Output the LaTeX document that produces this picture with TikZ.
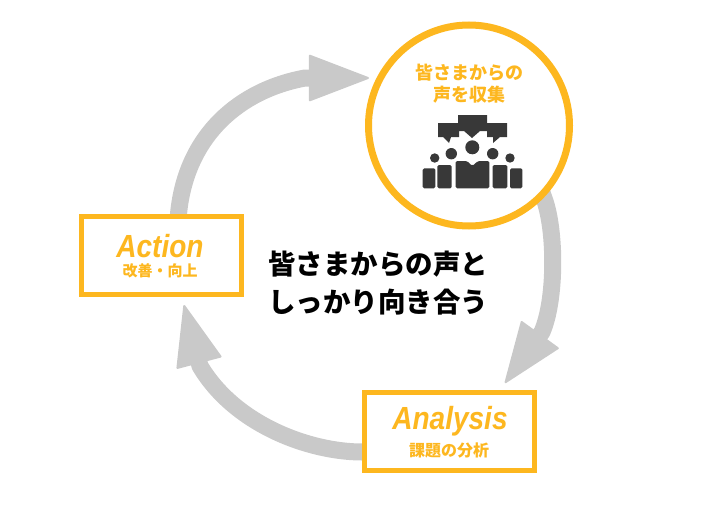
\documentclass[tikz,border=0pt]{standalone}
\usepackage{fontspec}
\setmainfont{Liberation Sans}
\newfontfamily\cjk{Noto Sans CJK JP}
\usetikzlibrary{positioning}
\usetikzlibrary{arrows.meta}
\usetikzlibrary{backgrounds}
\definecolor{loopGold}{HTML}{FDB71F}
\definecolor{loopGray}{HTML}{C9C9C9}
\definecolor{iconDark}{HTML}{383838}
\tikzstyle{loopArrow} = [draw=loopGray, line width=17pt, line cap=rect, line join=round, -{Triangle[length=62pt, width=47pt, line width=2pt, round]}]
\tikzstyle{stepBox} = [draw=loopGold, line width=5pt, fill=white, minimum width=160pt, minimum height=78pt, inner sep=0pt]
\tikzstyle{voiceCircle} = [circle, draw=loopGold, line width=7pt, fill=white, minimum size=201pt, inner sep=0pt]
\tikzstyle{stepTitle} = [text=loopGold, font=\bfseries\itshape\fontsize{32}{32}\selectfont]
\tikzstyle{stepText} = [text=loopGold, font=\cjk\bfseries\fontsize{15}{18}\selectfont]
\tikzstyle{iconPart} = [fill=iconDark, draw=none]
\newcommand{\person}[4]{\fill [iconPart, rounded corners=1.5pt] (#1,#2) rectangle (#3,#4);}
\begin{document}
\begin{tikzpicture}[x=1pt, y=-1pt]
  \useasboundingbox (0,0) rectangle (710,506);
  \node [voiceCircle] (voice) at (469,125.5) {};
  \node [stepBox] (action) at (161.5,255.5) {};
  \node [stepBox, minimum width=170pt] (analysis) at (449.5,431.5) {};

  % free ends of the arrows
  \coordinate (voiceTip) at (369,78);
  \coordinate (analysisTip) at (505,383);
  \coordinate (actionTip) at (184,305);
  \begin{pgfonlayer}{background}
    \draw [loopArrow] ([xshift=17pt]action.north) .. controls (186,135) and (240,90) .. (305,78) -- (voiceTip);
    \draw [loopArrow] (voice.-44) .. controls (556,230) and (556,300) .. (542,332) -- (analysisTip);
    \draw [loopArrow] ([yshift=-20.5pt]analysis.west) .. controls (310,452) and (235,425) .. (200,366) -- (actionTip);
  \end{pgfonlayer}

  \node [text=loopGold, font=\cjk\bfseries\fontsize{18}{22}\selectfont, align=center] (voiceText) at (469,84) {皆さまからの\\声を収集};
  \node [stepTitle] (actionTitle) at (160,246) {\scalebox{.875}[1]{Action}};
  \node [stepText] (actionText) at (160,271) {改善・向上};
  \node [stepTitle] (analysisTitle) at (450,421) {\scalebox{.875}[1]{Analysis}};
  \node [stepText, font=\cjk\bfseries\fontsize{16}{18}\selectfont] (analysisText) at (449,450) {課題の分析};
  \node [font=\cjk\bfseries\fontsize{27.5}{38}\selectfont, align=center] (mainText) at (378,283) {皆さまからの声と\\しっかり向き合う};

  % people icon
  \fill [iconPart] (458,115) -- (487,115) -- (487,123) -- (507,123) -- (507,137) -- (500,137) -- (493,143) -- (493,137) -- (487,137) -- (487,131) -- (480,131) -- (472,138) -- (464,131) -- (459,131) -- (459,137) -- (451,137) -- (449,143) -- (443,137) -- (438,137) -- (438,123) -- (458,123) -- cycle;
  \foreach \cx/\cy/\cr in {472.3/147.3/7, 451.3/153.7/5.7, 492.7/153.7/5.7, 434.7/158/4.7, 510/158/4.7} {
    \fill [iconPart] (\cx,\cy) circle (\cr);
  }
  \person{422.7}{168.3}{435.3}{188.3}
  \person{437.3}{165}{451.7}{188.3}
  \person{492.7}{165}{507.3}{188.3}
  \person{510}{168.3}{522.3}{188.3}
  \fill [iconPart, rounded corners=1.5pt] (455.7,188.3) -- (455.7,161) -- (467,161) -- (472.3,166) -- (478,161) -- (489.3,161) -- (489.3,188.3) -- cycle;
\end{tikzpicture}
\end{document}
